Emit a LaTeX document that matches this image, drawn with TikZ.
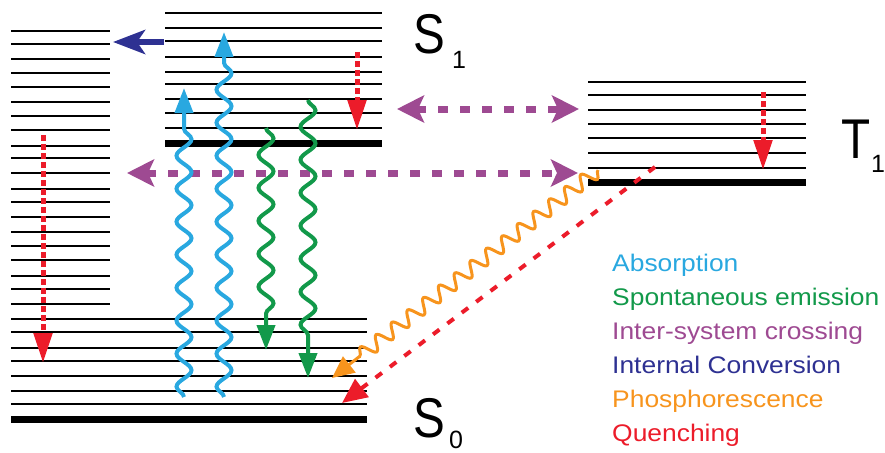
\documentclass[tikz,border=0pt]{standalone}
\usepackage{fontspec}
\setmainfont{Liberation Sans}
\usetikzlibrary{arrows.meta,decorations.pathmorphing}

\definecolor{cabs}{HTML}{29A8E0}
\definecolor{cemi}{HTML}{12994A}
\definecolor{cisc}{HTML}{9E4A92}
\definecolor{cic}{HTML}{2E3192}
\definecolor{cpho}{HTML}{F7941D}
\definecolor{cque}{HTML}{EC1C2A}

\begin{document}
\begin{tikzpicture}[x=1pt,y=-1pt,
  level/.style={line width=2pt},
  ground/.style={line width=7pt},
  biglabel/.style={anchor=base west, inner sep=0pt, xscale=0.85,
    font=\fontsize{56}{56}\selectfont},
  sublabel/.style={anchor=base west, inner sep=0pt,
    font=\fontsize{25}{25}\selectfont},
  legend/.style={anchor=base west, inner sep=0pt, xscale=1.1,
    font=\fontsize{24}{24}\selectfont},
  wave/.style={decorate, line width=4pt,
    decoration={snake, segment length=33pt, amplitude=7.5pt, post length=28pt},
    -{Triangle[length=25pt,width=18pt]}},
  absorb/.style={wave, draw=cabs},
  emit/.style={wave, draw=cemi},
  relax/.style={draw=cque, line width=5pt, dash pattern=on 6pt off 3pt,
    -{Triangle[length=30pt,width=18pt]}},
  isc/.style={draw=cisc, line width=7pt, dash pattern=on 10pt off 12pt,
    {Stealth[length=27pt,width=27pt,inset=6pt]}-{Stealth[length=27pt,width=27pt,inset=6pt]}},
  intconv/.style={draw=cic, line width=6pt,
    -{Stealth[length=32pt,width=24pt,inset=8pt]}},
  phos/.style={draw=cpho, line width=3pt, decorate,
    decoration={snake, segment length=20pt, amplitude=7pt, post length=26pt},
    -{Triangle[length=22pt,width=20pt]}},
  quench/.style={draw=cque, line width=4pt, dash pattern=on 8pt off 10pt,
    -{Triangle[length=25pt,width=22pt]}}
]
\useasboundingbox (0,0) rectangle (885,452);

% vibrational ladder of the upper singlet manifold (left)
\foreach \y in {31,44,59,73,87,102,116,130,146,158,173,189,202,217,232,246,260,276,289,304}
  \draw[level] (11,\y) -- (110,\y);

% S1 manifold
\foreach \y in {13,28,41,57,72,84,99,113,128}
  \draw[level] (165,\y) -- (382,\y);
\draw[ground] (165,143) -- (382,143);

% T1 manifold
\foreach \y in {82,95,110,124,138,153,168}
  \draw[level] (588,\y) -- (806,\y);
\draw[ground] (588,182) -- (806,182);

% S0 manifold
\foreach \y in {319,332,348,361,376,391,404}
  \draw[level] (11,\y) -- (367,\y);
\draw[ground] (11,419) -- (367,419);

% state labels
\node[biglabel] (s1) at (413,54) {S};
\node[sublabel] (s1i) at (452,68) {1};
\node[biglabel] (t1) at (841,158) {T};
\node[sublabel] (t1i) at (871,172) {1};
\node[biglabel] (s0) at (413,437) {S};
\node[sublabel] (s0i) at (449,448) {0};

% end points of the transitions
\coordinate (icA) at (164,42);   \coordinate (icB) at (113,42);
\coordinate (a1s) at (184,397);  \coordinate (a1e) at (184,88);
\coordinate (a2s) at (224,397);  \coordinate (a2e) at (224,32);
\coordinate (e1s) at (266,128);  \coordinate (e1e) at (266,350);
\coordinate (e2s) at (308,100);  \coordinate (e2e) at (308,378);
\coordinate (r1s) at (357,52);   \coordinate (r1e) at (357,130);
\coordinate (r2s) at (43,135);   \coordinate (r2e) at (43,363);
\coordinate (r3s) at (763,92);   \coordinate (r3e) at (763,170);
\coordinate (iuL) at (397,109);  \coordinate (iuR) at (579,109);
\coordinate (ilL) at (127,173);  \coordinate (ilR) at (578,173);
\coordinate (phS) at (598,170);  \coordinate (phE) at (332,378);
\coordinate (qS) at (655,167);   \coordinate (qE) at (342,403);

% transitions
\draw[intconv] (icA) -- (icB);
\draw[isc] (ilL) -- (ilR);
\draw[isc] (iuL) -- (iuR);
\draw[absorb] (a1s) -- (a1e);
\draw[absorb] (a2s) -- (a2e);
\draw[emit] (e1s) -- (e1e);
\draw[emit] (e2s) -- (e2e);
\draw[relax] (r1s) -- (r1e);
\draw[relax] (r2s) -- (r2e);
\draw[relax] (r3s) -- (r3e);
\draw[quench] (qS) -- (qE);
\draw[phos] (phS) -- (phE);

% legend
\node[legend, text=cabs] (la) at (612,271) {Absorption};
\node[legend, text=cemi] (lb) at (612,305) {Spontaneous emission};
\node[legend, text=cisc] (lc) at (612,339) {Inter-system crossing};
\node[legend, text=cic]  (ld) at (612,373) {Internal Conversion};
\node[legend, text=cpho] (le) at (612,407) {Phosphorescence};
\node[legend, text=cque] (lf) at (612,441) {Quenching};
\end{tikzpicture}
\end{document}
